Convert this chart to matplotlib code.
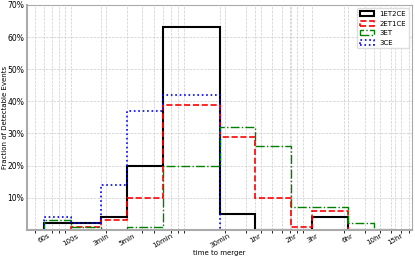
import matplotlib
matplotlib.use("Agg")
import matplotlib.pyplot as plt
import numpy as np

# bin edges in seconds and their labels
edges = [60, 100, 180, 300, 600, 1800, 3600, 7200, 10800, 21600, 36000, 54000]
edge_labels = ["60s", "100s", "3min", "5min", "10min", "30min", "1hr", "2hr",
               "3hr", "6hr", "10hr", "15hr"]

# percent of detectable events per bin
et1ce2 = [2, 2, 4, 20, 63, 5, 0, 0, 4, 0, 0]
et2ce1 = [0, 1, 3, 10, 39, 29, 10, 1, 6, 0, 0]
et3 = [3, 1, 0, 1, 20, 32, 26, 7, 7, 2, 0]
ce3 = [4, 2, 14, 37, 42, 0, 0, 0, 0, 0, 0]

fig = plt.figure(figsize=(4.15, 2.58), dpi=100)
ax = fig.add_axes([0.065, 0.109, 0.928, 0.872])

centers = np.sqrt(np.array(edges[:-1]) * np.array(edges[1:]))
ax.hist(centers, bins=edges, weights=et1ce2, histtype="step", color="black",
        lw=1.5, ls="-", label="1ET2CE")
ax.hist(centers, bins=edges, weights=et2ce1, histtype="step", color="red",
        lw=1.2, ls="--", label="2ET1CE")
ax.hist(centers, bins=edges, weights=et3, histtype="step", color="green",
        lw=1.0, ls="-.", label="3ET")
ax.hist(centers, bins=edges, weights=ce3, histtype="step", color="blue",
        lw=1.2, ls=":", label="3CE")

ax.set_xscale("log")
ax.set_xlim(43, 75000)
ax.set_ylim(0, 70)
ax.set_xticks(edges)
ax.set_xticklabels(edge_labels, rotation=30, fontsize=5)
ax.set_yticks([10, 20, 30, 40, 50, 60, 70])
ax.set_yticklabels(["10%", "20%", "30%", "40%", "50%", "60%", "70%"], fontsize=5.5)
ax.tick_params(length=0, pad=2)
ax.grid(True, which="both", color="#cccccc", lw=0.5, ls="--")
ax.set_axisbelow(True)

for s in ["left", "bottom"]:
    ax.spines[s].set_color("#aaaaaa")
    ax.spines[s].set_linewidth(1.5)
for s in ["top", "right"]:
    ax.spines[s].set_color("#aaaaaa")
    ax.spines[s].set_linewidth(0.8)

ax.set_xlabel("time to merger", fontsize=5, labelpad=1)
ax.set_ylabel("Fraction of Detectable Events", fontsize=5, va="center")
ax.yaxis.set_label_coords(-0.056, 0.5)
ax.legend(loc="upper right", fontsize=5, framealpha=1, edgecolor="#dddddd")

fig.savefig("out.png", dpi=100)
